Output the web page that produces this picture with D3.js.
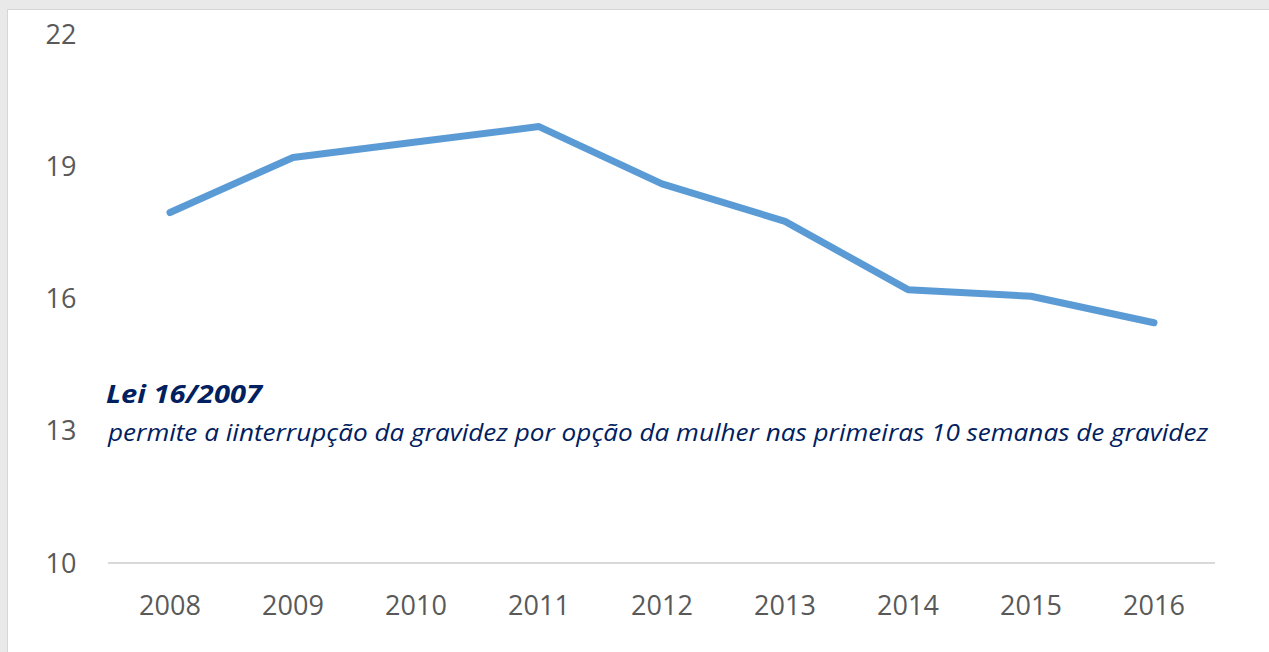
<!DOCTYPE html>
<html>
<head>
<meta charset="utf-8">
<script src="https://cdn.jsdelivr.net/npm/d3@7"></script>
<style>
  html, body { margin: 0; padding: 0; background: #e9e9e9; }
  #chart { width: 1269px; height: 652px; }
</style>
</head>
<body>
<div id="chart"></div>
<script>
// dados
const anos = ["2008", "2009", "2010", "2011", "2012", "2013", "2014", "2015", "2016"];
const valores = [17.95, 19.2, 19.55, 19.9, 18.6, 17.75, 16.2, 16.05, 15.45];
const ticksY = [10, 13, 16, 19, 22];
const tituloNota = "Lei 16/2007";
const textoNota = "permite a iinterrupção da gravidez por opção da mulher nas primeiras 10 semanas de gravidez";

const width = 1269, height = 652;
const fonte = "'Open Sans', 'Liberation Sans', sans-serif";

const svg = d3.select("#chart").append("svg")
  .attr("width", width)
  .attr("height", height);

// fundo
svg.append("rect").attr("width", width).attr("height", height).attr("fill", "#e9e9e9");
svg.append("rect")
  .attr("x", 7.5).attr("y", 9.5)
  .attr("width", width).attr("height", height)
  .attr("fill", "#ffffff")
  .attr("stroke", "#d6d6d6")
  .attr("stroke-width", 1);

const x = d3.scalePoint().domain(anos).range([170, 1154]);
const y = d3.scaleLinear().domain([10, 22]).range([563, 34]);

// eixo y (só rótulos)
svg.append("g")
  .selectAll("text")
  .data(ticksY)
  .join("text")
  .attr("x", 61)
  .attr("y", d => y(d))
  .attr("dy", "0.36em")
  .attr("text-anchor", "middle")
  .attr("fill", "#595959")
  .attr("font-size", 27)
  .attr("font-family", fonte)
  .text(d => d);

// linha base
svg.append("line")
  .attr("x1", 108).attr("x2", 1215)
  .attr("y1", y(10)).attr("y2", y(10))
  .attr("stroke", "#d9d9d9")
  .attr("stroke-width", 2);

// eixo x
svg.append("g")
  .selectAll("text")
  .data(anos)
  .join("text")
  .attr("x", d => x(d))
  .attr("y", 605)
  .attr("dy", "0.36em")
  .attr("text-anchor", "middle")
  .attr("fill", "#595959")
  .attr("font-size", 27)
  .attr("font-family", fonte)
  .text(d => d);

// série
const linha = d3.line()
  .x((d, i) => x(anos[i]))
  .y(d => y(d));

svg.append("path")
  .datum(valores)
  .attr("d", linha)
  .attr("fill", "none")
  .attr("stroke", "#5b9bd5")
  .attr("stroke-width", 7)
  .attr("stroke-linejoin", "round")
  .attr("stroke-linecap", "round");

// nota
svg.append("text")
  .attr("x", 106)
  .attr("y", 403)
  .attr("fill", "#002060")
  .attr("font-size", 25)
  .attr("font-weight", "bold")
  .attr("font-style", "italic")
  .attr("font-family", fonte)
  .attr("textLength", 156)
  .attr("lengthAdjust", "spacingAndGlyphs")
  .text(tituloNota);

svg.append("text")
  .attr("x", 108)
  .attr("y", 441)
  .attr("fill", "#002060")
  .attr("font-size", 23)
  .attr("font-style", "italic")
  .attr("font-family", fonte)
  .attr("textLength", 1100)
  .attr("lengthAdjust", "spacingAndGlyphs")
  .text(textoNota);
</script>
</body>
</html>
